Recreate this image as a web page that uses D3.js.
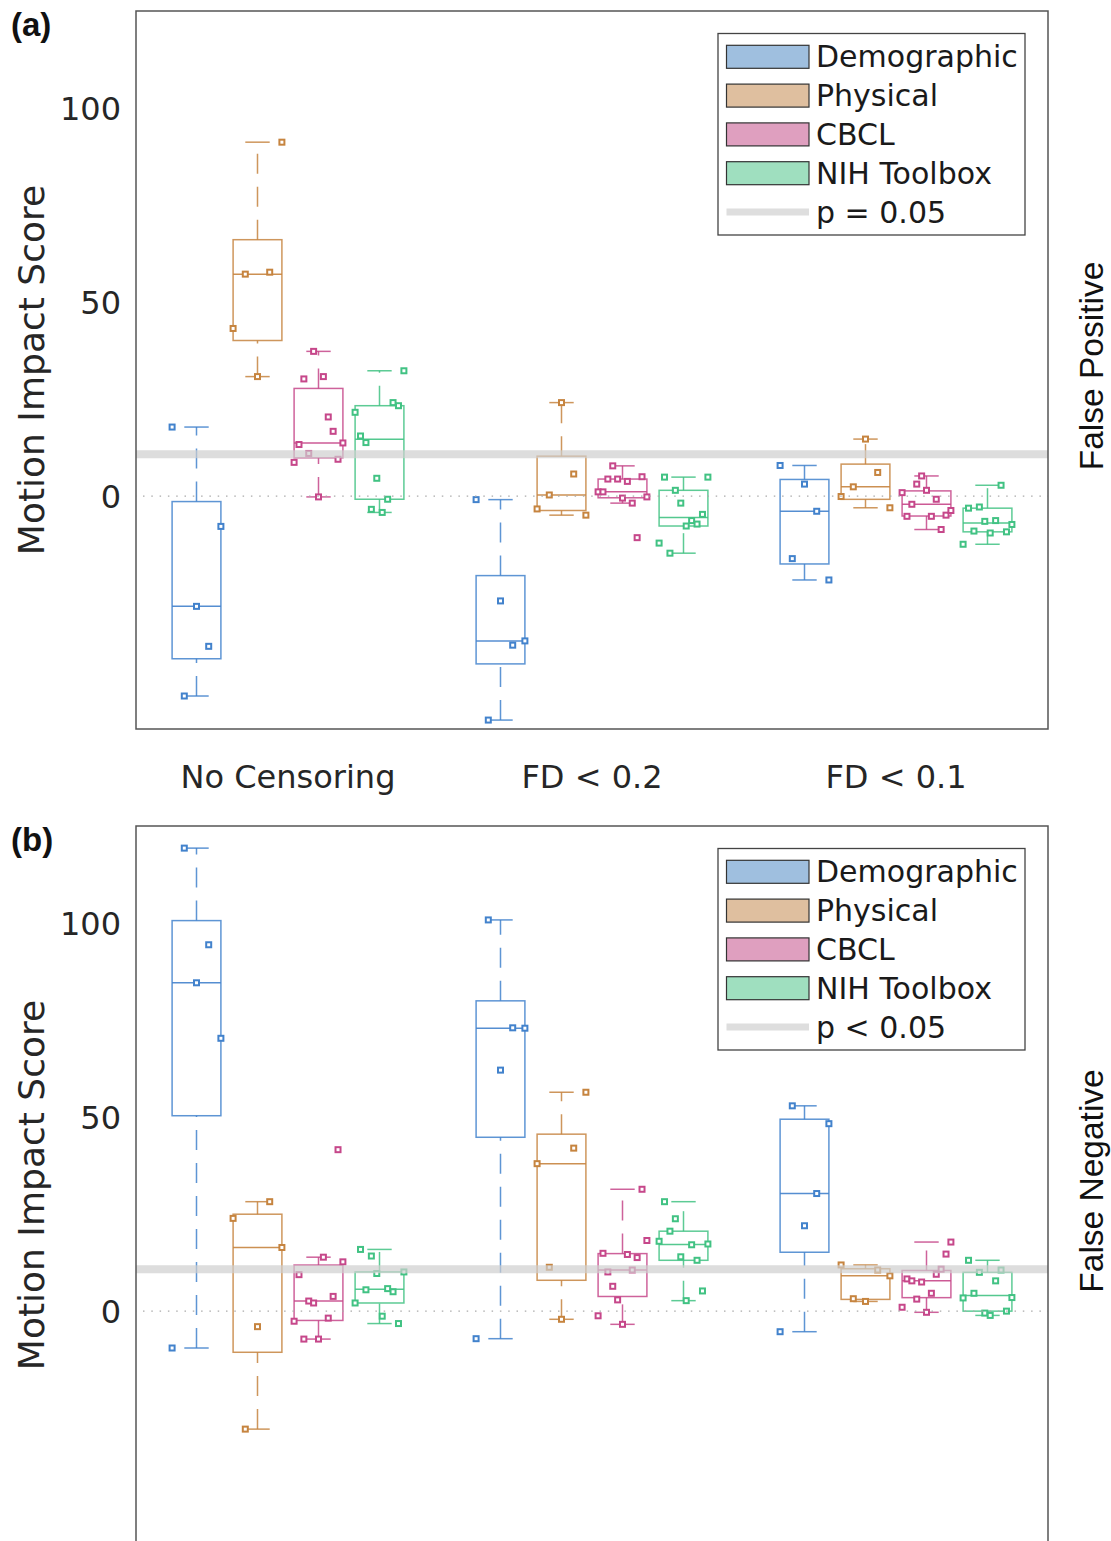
<!DOCTYPE html>
<html>
<head>
<meta charset="utf-8">
<script src="https://cdn.jsdelivr.net/npm/d3@7"></script>
<style>
  body { margin: 0; background: #fff; }
  svg text { font-family: "DejaVu Sans", sans-serif; }
</style>
</head>
<body>
<div id="chart"></div>
<script>
// groups along x, categories inside a group
const groups = ["No Censoring", "FD < 0.2", "FD < 0.1"];
const categories = ["Demographic", "Physical", "CBCL", "NIH Toolbox"];
const yTicks = [0, 50, 100];
const pThreshold = 10.8;

// (a) false positive scores, one array per group, points in plotting order
const fpDemographic = [
    [17.8, -51.5, -28.4, -38.7, -7.8],
    [-0.9, -57.7, -27.0, -38.4, -37.3],
    [7.9, -16.1, 3.1, -3.9, -21.6]
];
const fpPhysical = [
    [43.2, 57.2, 30.8, 57.7, 91.2],
    [-3.3, 0.3, 24.1, 5.7, -4.9],
    [-0.1, 2.4, 14.7, 6.1, -3.0]
];
const fpCBCL = [
    [8.7, 13.3, 30.2, 11.0, 37.3, -0.2, 30.8, 20.4, 16.7, 9.5, 13.7],
    [1.1, 1.1, 4.4, 7.8, 4.4, -0.5, 3.8, -1.8, -10.7, 5.0, -0.2],
    [0.9, -5.2, -2.1, 3.1, 5.2, 1.5, -5.2, -0.8, -8.6, -4.9, -3.7]
];
const fpNIH = [
    [21.6, 15.5, 13.8, -3.4, 4.6, -4.2, -0.8, 24.1, 23.3, 32.3],
    [-12.1, 4.9, -14.7, 1.5, -1.8, -7.7, -6.3, -7.2, -4.7, 4.9],
    [-12.4, -3.1, -9.0, -2.8, -6.5, -9.5, -6.3, 2.8, -9.2, -7.3]
];

// (b) false negative scores
const fnDemographic = [
    [-9.5, 119.3, 84.6, 94.4, 70.3],
    [-7.1, 100.8, 62.1, 73.0, 72.9],
    [-5.3, 52.9, 22.0, 30.3, 48.3]
];
const fnPhysical = [
    [23.9, -30.4, -4.0, 28.2, 16.4],
    [38.0, 11.3, -2.1, 42.0, 56.4],
    [11.9, 3.2, 2.5, 10.6, 9.1]
];
const fnCBCL = [
    [-2.6, 9.4, -7.2, 2.6, 2.1, -7.2, 13.9, -1.8, 3.8, 41.6, 12.7],
    [-1.2, 14.9, 10.1, 6.4, 2.9, -3.4, 14.6, 10.6, 13.8, 31.4, 18.2],
    [1.0, 8.3, 7.8, 3.1, 7.5, -0.3, 4.6, 9.5, 10.8, 14.7, 17.8]
];
const fnNIH = [
    [2.1, 15.9, 5.5, 14.2, 9.7, -1.3, 5.8, 5.0, -3.2, 10.1],
    [18.0, 28.2, 20.6, 23.8, 14.0, 2.7, 17.1, 13.1, 5.2, 17.3],
    [3.4, 13.1, 4.6, 10.0, -0.5, -1.1, 7.8, 10.6, 0.0, 3.5]
];

const lineColors = ["#4282cc", "#c6843f", "#c6478a", "#41c283"];
const swatchColors = ["#9fbfdf", "#dfbf9f", "#df9fbf", "#9fdfbf"];

const width = 1111, height = 1541;
const svg = d3.select("#chart").append("svg")
    .attr("width", width)
    .attr("height", height);

// quantile as matlab computes it, sorted input
function mQuantile(s, p) {
    const n = s.length;
    const pos = p * n + 0.5;
    if (pos <= 1) return s[0];
    if (pos >= n) return s[n - 1];
    const lo = Math.floor(pos), f = pos - lo;
    return s[lo - 1] + f * (s[lo] - s[lo - 1]);
}

function boxStats(values) {
    const s = values.slice().sort(d3.ascending);
    const q1 = mQuantile(s, 0.25), med = mQuantile(s, 0.5), q3 = mQuantile(s, 0.75);
    const iqr = q3 - q1;
    const hi = d3.max(s.filter(v => v <= q3 + 1.5 * iqr));
    const lo = d3.min(s.filter(v => v >= q1 - 1.5 * iqr));
    return {q1: q1, med: med, q3: q3, lo: lo, hi: hi};
}

function drawPanel(top, label, series, pLabel, sideLabel) {
    const plotH = 718;
    const left = 136, right = 1048;

    const y = d3.scaleLinear().domain([-60, 125]).range([top + plotH, top]);
    const x = d3.scaleBand().domain(groups).range([left, right]).padding(0);
    const inner = d3.scaleBand().domain(categories).range([30, 274]);
    const boxW = inner.bandwidth() * 0.8;

    const g = svg.append("g");

    groups.forEach(function(grp, gi) {
        categories.forEach(function(cat, ci) {
            const vals = series[ci][gi];
            const st = boxStats(vals);
            const cx = x(grp) + inner(cat) + inner.bandwidth() / 2;
            const col = lineColors[ci];
            const bg = g.append("g")
                .attr("stroke", col)
                .attr("stroke-width", 1.5)
                .attr("fill", "none");

            // whiskers (dashed), drawn upwards like matlab does
            bg.append("line")
                .attr("x1", cx).attr("x2", cx)
                .attr("y1", y(st.q3)).attr("y2", y(st.hi))
                .attr("stroke-dasharray", "20,13")
                .attr("stroke-opacity", 0.85);
            bg.append("line")
                .attr("x1", cx).attr("x2", cx)
                .attr("y1", y(st.lo)).attr("y2", y(st.q1))
                .attr("stroke-dasharray", "20,13")
                .attr("stroke-opacity", 0.85);
            // caps
            bg.selectAll(".cap")
                .data([st.lo, st.hi])
                .enter().append("line")
                .attr("x1", cx - boxW / 4).attr("x2", cx + boxW / 4)
                .attr("y1", d => y(d)).attr("y2", d => y(d))
                .attr("stroke-opacity", 0.85);
            // box
            bg.append("rect")
                .attr("x", cx - boxW / 2)
                .attr("y", y(st.q3))
                .attr("width", boxW)
                .attr("height", y(st.q1) - y(st.q3))
                .attr("stroke-opacity", 0.85);
            bg.append("line")
                .attr("x1", cx - boxW / 2).attr("x2", cx + boxW / 2)
                .attr("y1", y(st.med)).attr("y2", y(st.med))
                .attr("stroke-opacity", 0.9);

            // points spread evenly across box width
            const n = vals.length;
            g.selectAll(null)
                .data(vals)
                .enter().append("rect")
                .attr("x", (d, i) => cx - boxW / 2 + i / (n - 1) * boxW - 2.5)
                .attr("y", d => y(d) - 2.5)
                .attr("width", 5)
                .attr("height", 5)
                .attr("fill", "#fff")
                .attr("stroke", col)
                .attr("stroke-width", 2);
        });
    });

    // zero line
    g.append("line")
        .attr("x1", left).attr("x2", right)
        .attr("y1", y(0)).attr("y2", y(0))
        .attr("stroke", "#aaa")
        .attr("stroke-width", 1.3)
        .attr("stroke-dasharray", "1.5,6.8")
        .attr("stroke-dashoffset", -7);

    // significance band
    g.append("line")
        .attr("x1", left).attr("x2", right)
        .attr("y1", y(pThreshold)).attr("y2", y(pThreshold))
        .attr("stroke", "#cecece")
        .attr("stroke-opacity", 0.7)
        .attr("stroke-width", 8);

    // frame
    g.append("rect")
        .attr("x", left).attr("y", top)
        .attr("width", right - left).attr("height", plotH)
        .attr("fill", "none")
        .attr("stroke", "#555")
        .attr("stroke-width", 1.5);

    // y tick labels
    g.selectAll(".ytick")
        .data(yTicks)
        .enter().append("text")
        .attr("x", 121)
        .attr("y", d => y(d))
        .attr("dy", "0.36em")
        .attr("text-anchor", "end")
        .attr("font-size", 32)
        .attr("fill", "#262626")
        .text(d => d);

    g.append("text")
        .attr("transform", "translate(44," + (top + plotH / 2) + ") rotate(-90)")
        .attr("text-anchor", "middle")
        .attr("font-size", 36)
        .attr("fill", "#262626")
        .text("Motion Impact Score");

    g.append("text")
        .attr("transform", "translate(1103," + (top + plotH / 2 - 4) + ") rotate(-90)")
        .attr("text-anchor", "middle")
        .style("font-family", "'Liberation Sans', Arial, sans-serif")
        .attr("font-size", 33.5)
        .attr("fill", "#111")
        .text(sideLabel);

    g.append("text")
        .attr("x", 11)
        .attr("y", top + 25)
        .style("font-family", "'Liberation Sans', Arial, sans-serif")
        .style("font-weight", "bold")
        .attr("font-size", 33)
        .attr("fill", "#111")
        .text(label);

    // legend
    const lg = g.append("g").attr("transform", "translate(718," + (top + 22.5) + ")");
    lg.append("rect")
        .attr("width", 307).attr("height", 201.5)
        .attr("fill", "#fff")
        .attr("stroke", "#444")
        .attr("stroke-width", 1.3);
    const rowH = 38.8;
    const rows = categories.concat([pLabel]);
    const item = lg.selectAll(".key")
        .data(rows)
        .enter().append("g")
        .attr("transform", (d, i) => "translate(0," + (23.3 + i * rowH) + ")");
    item.filter((d, i) => i < 4).append("rect")
        .attr("x", 8.5).attr("y", -11.5)
        .attr("width", 82.5).attr("height", 23)
        .attr("fill", (d, i) => swatchColors[i])
        .attr("stroke", "#333")
        .attr("stroke-width", 1.2);
    item.filter((d, i) => i === 4).append("line")
        .attr("x1", 8.5).attr("x2", 91)
        .attr("stroke", "#dedede")
        .attr("stroke-width", 7);
    item.append("text")
        .attr("x", 98)
        .attr("y", 10.5)
        .attr("font-size", 30)
        .attr("fill", "#1a1a1a")
        .text(d => d);

    return x;
}

const xA = drawPanel(11, "(a)", [fpDemographic, fpPhysical, fpCBCL, fpNIH], "p = 0.05", "False Positive");
drawPanel(826, "(b)", [fnDemographic, fnPhysical, fnCBCL, fnNIH], "p < 0.05", "False Negative");

// group labels between the panels
svg.selectAll(".xlab")
    .data(groups)
    .enter().append("text")
    .attr("x", d => xA(d) + xA.bandwidth() / 2)
    .attr("y", 788)
    .attr("text-anchor", "middle")
    .attr("font-size", 32)
    .attr("fill", "#262626")
    .text(d => d);
</script>
</body>
</html>
